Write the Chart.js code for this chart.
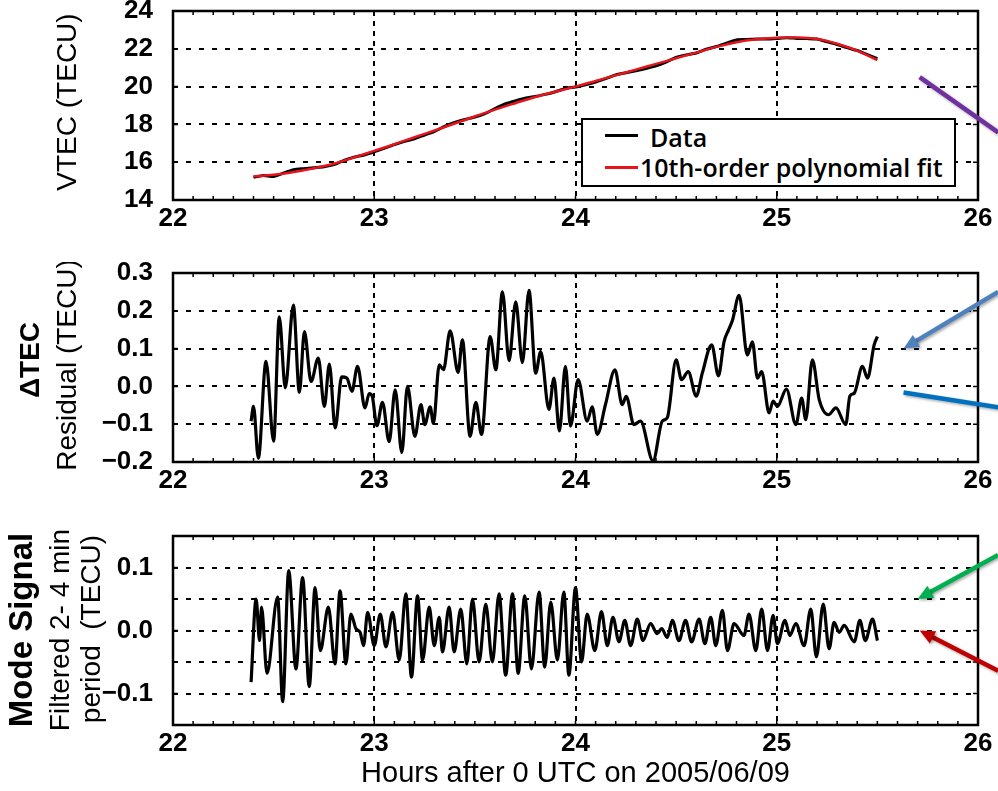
<!DOCTYPE html>
<html>
<head>
<meta charset="utf-8">
<script src="https://cdn.jsdelivr.net/npm/chart.js@4.4.1/dist/chart.umd.min.js"></script>
<style>
  body { margin: 0; background: #fff; }
  #wrap { position: relative; width: 998px; height: 791px; overflow: hidden; background: #fff; }
  #wrap canvas { position: absolute; left: 0; }
  #legend { position: absolute; left: 581px; top: 118px; width: 375px; height: 69px; box-sizing: border-box;
            border: 2px solid #000; background: #fff; font-family: 'Open Sans', sans-serif; font-weight: 600; font-size: 25px; color: #000; }
  #legend .ln { position: absolute; left: 22px; width: 33px; height: 3px; }
  #legend .tx { position: absolute; height: 30px; line-height: 30px; white-space: nowrap; }
</style>
</head>
<body>
<div id="wrap">
  <canvas id="vtec_chart" width="998" height="235" style="top:0px"></canvas>
  <canvas id="resid_chart" width="998" height="235" style="top:262px"></canvas>
  <canvas id="mode_chart" width="998" height="266" style="top:525px"></canvas>
  <div id="legend">
    <div class="ln" style="top:14px;background:#000"></div>
    <div class="tx" style="left:67px;top:2px">Data</div>
    <div class="ln" style="top:46px;background:#e8141b"></div>
    <div class="tx" style="left:57px;top:32px">10th-order polynomial fit</div>
  </div>
</div>
<script>
// ---- data ----
var hourTicks = [22, 23, 24, 25, 26];

// VTEC (TECU)
var fitHours = [22.4, 22.5, 22.6, 22.7, 22.8, 22.9, 23.0, 23.1, 23.2, 23.3, 23.4, 23.5, 23.6, 23.7, 23.8, 23.9,
                24.0, 24.1, 24.2, 24.3, 24.4, 24.5, 24.6, 24.7, 24.8, 24.9, 25.0, 25.1, 25.2, 25.3, 25.4, 25.5];
var fitValues = [15.25, 15.33, 15.48, 15.68, 15.92, 16.25, 16.6, 16.95, 17.32, 17.68, 18.05, 18.42, 18.78, 19.12, 19.45, 19.73,
                 20.0, 20.3, 20.6, 20.9, 21.2, 21.5, 21.8, 22.1, 22.35, 22.5, 22.58, 22.6, 22.52, 22.27, 21.9, 21.4];

var dataHours = [22.40, 22.45, 22.50, 22.55, 22.60, 22.65, 22.70, 22.75, 22.80, 22.85, 22.90, 22.95,
                 23.00, 23.05, 23.10, 23.15, 23.20, 23.25, 23.30, 23.35, 23.40, 23.45, 23.50, 23.55,
                 23.60, 23.65, 23.70, 23.75, 23.80, 23.85, 23.90, 23.95, 24.00, 24.05, 24.10, 24.15,
                 24.20, 24.25, 24.30, 24.35, 24.40, 24.45, 24.50, 24.55, 24.60, 24.65, 24.70, 24.75,
                 24.80, 24.85, 24.90, 24.95, 25.00, 25.05, 25.10, 25.15, 25.20, 25.25, 25.30, 25.35,
                 25.40, 25.45, 25.50];
var dataValues = [15.20, 15.30, 15.24, 15.43, 15.60, 15.66, 15.71, 15.76, 15.87, 16.10, 16.27, 16.38,
                  16.55, 16.74, 16.93, 17.10, 17.24, 17.44, 17.63, 17.90, 18.10, 18.26, 18.39, 18.57,
                  18.84, 19.08, 19.24, 19.38, 19.48, 19.59, 19.73, 19.90, 19.98, 20.10, 20.24, 20.42,
                  20.62, 20.73, 20.84, 20.96, 21.10, 21.30, 21.55, 21.68, 21.78, 21.98, 22.12, 22.30,
                  22.47, 22.49, 22.52, 22.52, 22.55, 22.59, 22.55, 22.54, 22.52, 22.37, 22.23, 22.06,
                  21.91, 21.69, 21.48];

// Delta TEC residual (TECU)
var residHours = [22.388, 22.40, 22.424, 22.462, 22.50, 22.528, 22.558, 22.598, 22.628, 22.653, 22.686, 22.722,
                  22.752, 22.777, 22.806, 22.838, 22.864, 22.889, 22.917, 22.954, 22.975, 22.99, 23.013, 23.041,
                  23.074, 23.104, 23.137, 23.165, 23.202, 23.232, 23.251, 23.278, 23.294, 23.323, 23.344, 23.377,
                  23.417, 23.438, 23.476, 23.505, 23.533, 23.576, 23.604, 23.637, 23.67, 23.703, 23.736, 23.769,
                  23.802, 23.827, 23.868, 23.893, 23.92, 23.95, 23.975, 24.013, 24.058, 24.083, 24.108, 24.149,
                  24.196, 24.232, 24.252, 24.29, 24.323, 24.385, 24.431, 24.456, 24.50, 24.527, 24.56, 24.60,
                  24.63, 24.677, 24.71, 24.738, 24.76, 24.78, 24.813, 24.854, 24.879, 24.904, 24.925, 24.962,
                  24.982, 25.003, 25.048, 25.095, 25.124, 25.144, 25.177, 25.211, 25.257, 25.294, 25.343, 25.363,
                  25.385, 25.426, 25.451, 25.484, 25.50];
var residValues = [-0.092, -0.053, -0.19, 0.066, -0.145, 0.184, -0.004, 0.215, -0.016, 0.145, 0.013, 0.075,
                   -0.053, 0.059, -0.11, 0.025, 0.022, -0.013, 0.053, -0.057, -0.019, -0.026, -0.104, -0.042,
                   -0.146, -0.009, -0.175, 0.0, -0.132, -0.048, -0.101, -0.054, -0.098, 0.057, 0.044, 0.147,
                   0.037, 0.123, -0.132, -0.042, -0.127, 0.132, 0.044, 0.25, 0.068, 0.224, 0.063, 0.254,
                   0.035, 0.092, -0.061, 0.022, -0.118, 0.053, -0.105, 0.018, -0.092, -0.054, -0.127, -0.048,
                   0.044, -0.048, -0.026, -0.101, -0.092, -0.197, -0.092, -0.083, 0.07, 0.018, 0.039, -0.026,
                   0.035, 0.11, 0.028, 0.118, 0.149, 0.175, 0.241, 0.083, 0.118, 0.022, 0.039, -0.07,
                   -0.039, -0.053, -0.007, -0.101, -0.031, -0.088, 0.07, -0.035, -0.075, -0.057, -0.101, -0.026,
                   -0.018, 0.053, 0.022, 0.11, 0.132];

// Mode signal, filtered 2-4 min period (TECU)
var modeHours = [22.388, 22.413, 22.43, 22.44, 22.467, 22.52, 22.545, 22.575, 22.611, 22.644, 22.677, 22.706,
                 22.732, 22.772, 22.805, 22.83, 22.859, 22.884, 22.909, 22.93, 22.947, 22.967, 23.0, 23.03,
                 23.058, 23.091, 23.124, 23.157, 23.185, 23.215, 23.24, 23.273, 23.298, 23.323, 23.339, 23.372,
                 23.397, 23.43, 23.46, 23.488, 23.521, 23.554, 23.587, 23.62, 23.653, 23.687, 23.715, 23.748,
                 23.781, 23.819, 23.847, 23.877, 23.91, 23.942, 23.967, 24.0, 24.03, 24.058, 24.096, 24.129,
                 24.158, 24.186, 24.216, 24.245, 24.274, 24.307, 24.335, 24.373, 24.406, 24.428, 24.456, 24.481,
                 24.514, 24.547, 24.577, 24.614, 24.643, 24.672, 24.697, 24.73, 24.755, 24.788, 24.837, 24.862,
                 24.896, 24.925, 24.954, 24.982, 25.003, 25.041, 25.065, 25.095, 25.136, 25.169, 25.197, 25.231,
                 25.26, 25.285, 25.31, 25.335, 25.385, 25.413, 25.44, 25.476, 25.50];
var modeValues = [-0.082, 0.05, -0.016, 0.037, -0.068, 0.053, -0.113, 0.095, -0.061, 0.084, -0.089, 0.068,
                  -0.032, 0.037, -0.053, 0.063, -0.053, 0.026, 0.003, -0.003, -0.024, 0.029, -0.024, 0.026,
                  -0.026, 0.029, -0.047, 0.058, -0.074, 0.055, -0.047, 0.037, -0.024, 0.021, -0.034, 0.037,
                  -0.034, 0.034, -0.053, 0.05, -0.05, 0.042, -0.05, 0.058, -0.071, 0.058, -0.068, 0.055,
                  -0.061, 0.061, -0.058, 0.045, -0.047, 0.061, -0.071, 0.068, -0.05, 0.026, -0.032, 0.03,
                  -0.024, 0.021, -0.018, 0.016, -0.024, 0.018, -0.016, 0.011, -0.005, 0.003, -0.011, 0.016,
                  -0.016, 0.016, -0.018, 0.018, -0.021, 0.021, -0.024, 0.032, -0.032, 0.011, -0.008, 0.026,
                  -0.032, 0.034, -0.032, 0.024, -0.021, 0.016, -0.008, 0.011, -0.024, 0.034, -0.042, 0.042,
                  -0.029, 0.013, -0.003, 0.008, -0.018, 0.016, -0.016, 0.018, -0.016];

// ---- helpers ----
var tickFont = "'Liberation Sans', Arial, Helvetica, sans-serif";

function pts(xs, ys) {
  return xs.map(function (h, i) { return { x: h, y: ys[i] }; });
}

function minusFmt(v, digits) {
  var s = Math.abs(v).toFixed(digits);
  return v < -1e-9 ? '\u2212' + s : s;
}

function drawArrow(ctx, x, y, ar) {
  var x1 = x.getPixelForValue(ar.from[0]), y1 = y.getPixelForValue(ar.from[1]);
  var x2 = x.getPixelForValue(ar.to[0]), y2 = y.getPixelForValue(ar.to[1]);
  var ang = Math.atan2(y2 - y1, x2 - x1);
  var hl = ar.head ? 15 : 0;
  ctx.save();
  ctx.shadowColor = 'rgba(0,0,0,0.35)';
  ctx.shadowBlur = 3;
  ctx.shadowOffsetX = 1.5;
  ctx.shadowOffsetY = 1.5;
  ctx.strokeStyle = ar.color;
  ctx.fillStyle = ar.color;
  ctx.lineWidth = 4.5;
  ctx.setLineDash([]);
  ctx.beginPath();
  ctx.moveTo(x1, y1);
  ctx.lineTo(x2 - Math.cos(ang) * hl * 0.8, y2 - Math.sin(ang) * hl * 0.8);
  ctx.stroke();
  if (ar.head) {
    ctx.beginPath();
    ctx.moveTo(x2, y2);
    ctx.lineTo(x2 - hl * Math.cos(ang) + 7 * Math.sin(ang), y2 - hl * Math.sin(ang) - 7 * Math.cos(ang));
    ctx.lineTo(x2 - hl * Math.cos(ang) - 7 * Math.sin(ang), y2 - hl * Math.sin(ang) + 7 * Math.cos(ang));
    ctx.closePath();
    ctx.fill();
  }
  ctx.restore();
}

// frame, minor ticks, side labels and the pointer arrows
var panelDecor = {
  id: 'panelDecor',
  afterDraw: function (chart, args, opts) {
    var ctx = chart.ctx, a = chart.chartArea, x = chart.scales.x, y = chart.scales.y;
    ctx.save();
    ctx.setLineDash([]);
    ctx.strokeStyle = '#000';
    ctx.lineWidth = 1.5;
    for (var i = 0; i <= 40; i++) {
      var px = x.getPixelForValue(22 + i / 10);
      ctx.beginPath();
      ctx.moveTo(px, a.top); ctx.lineTo(px, a.top + 4);
      ctx.moveTo(px, a.bottom); ctx.lineTo(px, a.bottom - 4);
      ctx.stroke();
    }
    y.ticks.forEach(function (t) {
      var py = y.getPixelForValue(t.value);
      ctx.beginPath();
      ctx.moveTo(a.left, py); ctx.lineTo(a.left + 5, py);
      ctx.moveTo(a.right, py); ctx.lineTo(a.right - 5, py);
      ctx.stroke();
    });
    ctx.lineWidth = 2.5;
    ctx.strokeRect(a.left, a.top, a.right - a.left, a.bottom - a.top);

    ctx.fillStyle = '#000';
    ctx.textAlign = 'center';
    ctx.textBaseline = 'middle';
    (opts.labels || []).forEach(function (l) {
      ctx.save();
      ctx.translate(l.x, l.y);
      ctx.rotate(-Math.PI / 2);
      ctx.font = l.font;
      ctx.fillText(l.text, 0, 0);
      ctx.restore();
    });
    ctx.restore();
    (opts.arrows || []).forEach(function (ar) { drawArrow(ctx, x, y, ar); });
  }
};

function panelOptions(yMin, yMax, yStep, yLabel, xAxisHeight, decor, xTitle) {
  var edge = function (v, lo, hi) { return Math.abs(v - lo) < 1e-6 || Math.abs(v - hi) < 1e-6; };
  return {
    responsive: false,
    animation: false,
    devicePixelRatio: 1,
    layout: { padding: { left: 0, right: 20, top: 11, bottom: 0 } },
    plugins: { legend: { display: false }, tooltip: { enabled: false }, panelDecor: decor },
    scales: {
      x: {
        type: 'linear', min: 22, max: 26,
        afterBuildTicks: function (s) { s.ticks = hourTicks.map(function (v) { return { value: v }; }); },
        ticks: { color: '#000', padding: 3, maxRotation: 0, autoSkip: false,
                 font: { family: tickFont, size: 26, weight: 'bold' },
                 callback: function (v) { return String(v); } },
        grid: { drawTicks: false, lineWidth: 2,
                color: function (c) { return c.tick && edge(c.tick.value, 22, 26) ? 'rgba(0,0,0,0)' : '#000'; } },
        border: { display: false, dash: [5, 5] },
        title: xTitle ? { display: true, text: xTitle, color: '#000', padding: { top: 0, bottom: 0 },
                          font: { family: tickFont, size: 29 } } : { display: false },
        afterFit: function (s) { s.height = xAxisHeight; s.paddingLeft = 0; s.paddingRight = 0; }
      },
      y: {
        min: yMin, max: yMax,
        ticks: { stepSize: yStep, color: '#000', padding: 20, autoSkip: false,
                 font: { family: tickFont, size: 26, weight: 'bold' },
                 callback: yLabel },
        grid: { drawTicks: false, lineWidth: 2,
                color: function (c) { return c.tick && edge(c.tick.value, yMin, yMax) ? 'rgba(0,0,0,0)' : '#000'; } },
        border: { display: false, dash: [5, 8] },
        afterFit: function (s) { s.width = 173; s.paddingTop = 0; s.paddingBottom = 0; }
      }
    }
  };
}

var sideFont = "28px " + tickFont;
var sideBold = "bold 28px " + tickFont;

// ---- VTEC panel ----
var c1 = document.getElementById('vtec_chart').getContext('2d');
var vtec_chart = new Chart(c1, {
  type: 'line',
  data: {
    datasets: [
      { label: '10th-order polynomial fit', data: pts(fitHours, fitValues), borderColor: '#e8141b',
        borderWidth: 2.5, pointRadius: 0, tension: 0.4 },
      { label: 'Data', data: pts(dataHours, dataValues), borderColor: '#000',
        borderWidth: 3, pointRadius: 0, tension: 0.2 }
    ]
  },
  options: panelOptions(14, 24, 2, function (v) { return String(v); }, 35, {
    labels: [{ text: 'VTEC (TECU)', x: 68, y: 102, font: sideFont }],
    arrows: [{ from: [26.1, 17.58], to: [25.71, 20.5], color: '#7030a0', head: false }]
  }),
  plugins: [panelDecor]
});

// ---- residual panel ----
var c2 = document.getElementById('resid_chart').getContext('2d');
var resid_chart = new Chart(c2, {
  type: 'line',
  data: {
    datasets: [
      { label: 'Residual', data: pts(residHours, residValues), borderColor: '#000',
        borderWidth: 3.2, pointRadius: 0, cubicInterpolationMode: 'monotone' }
    ]
  },
  options: panelOptions(-0.2, 0.3, 0.1, function (v) { return minusFmt(v, 1); }, 35, {
    labels: [
      { text: '\u0394TEC', x: 31, y: 98, font: sideBold },
      { text: 'Residual (TECU)', x: 68, y: 103, font: sideFont }
    ],
    arrows: [
      { from: [26.1, 0.25], to: [25.63, 0.1], color: '#4f81bd', head: true },
      { from: [26.1, -0.055], to: [25.63, -0.016], color: '#0070c0', head: false }
    ]
  }),
  plugins: [panelDecor]
});

// ---- mode signal panel ----
var c3 = document.getElementById('mode_chart').getContext('2d');
var mode_chart = new Chart(c3, {
  type: 'line',
  data: {
    datasets: [
      { label: 'Mode signal', data: pts(modeHours, modeValues), borderColor: '#000',
        borderWidth: 3.2, pointRadius: 0, cubicInterpolationMode: 'monotone' }
    ]
  },
  options: panelOptions(-0.15, 0.15, 0.05, function (v) {
    return Math.abs(Math.abs(v) - 0.1) < 1e-6 || Math.abs(v) < 1e-6 ? minusFmt(v, 1) : '';
  }, 66, {
    labels: [
      { text: 'Mode Signal', x: 23, y: 105, font: "bold 33px " + tickFont },
      { text: 'Filtered 2- 4 min', x: 61, y: 105, font: sideFont },
      { text: 'period  (TECU)', x: 92, y: 104, font: sideFont }
    ],
    arrows: [
      { from: [26.1, 0.12], to: [25.70, 0.05], color: '#00b050', head: true },
      { from: [26.1, -0.064], to: [25.71, 0.0], color: '#c00000', head: true }
    ]
  }, 'Hours after 0 UTC on 2005/06/09'),
  plugins: [panelDecor]
});
</script>
</body>
</html>
